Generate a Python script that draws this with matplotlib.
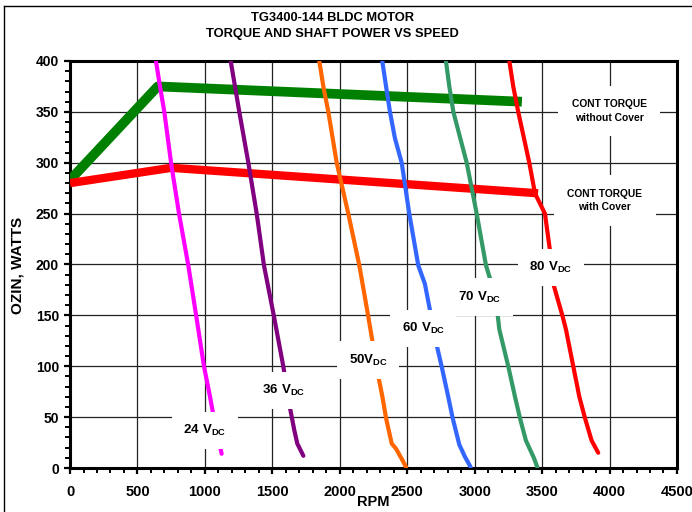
import matplotlib
matplotlib.use('Agg')
import matplotlib.pyplot as plt
from matplotlib.lines import Line2D
from matplotlib.ticker import MultipleLocator

plt.rcParams.update({
    'font.family': 'Liberation Sans',
    'font.weight': 'bold',
    'mathtext.fontset': 'custom',
    'mathtext.rm': 'Liberation Sans:bold',
    'mathtext.bf': 'Liberation Sans:bold',
})

# continuous torque limits
cont_nocover_rpm = [0, 650, 3350]
cont_nocover_ozin = [283, 375, 360]
cont_cover_rpm = [0, 750, 3470]
cont_cover_ozin = [280, 295, 270]

# speed-torque curves per supply voltage
v24_rpm = [637, 667, 699, 749, 808, 877, 935, 993, 1038, 1067, 1124]
v24_ozin = [400, 375, 350, 300, 250, 199, 150, 100, 70, 49, 14]

v36_rpm = [1191, 1255, 1322, 1384, 1438, 1512, 1581, 1631, 1663, 1685, 1730]
v36_ozin = [400, 350, 300, 250, 199, 149, 100, 59, 37, 24, 12]

v50_rpm = [1848, 1878, 1915, 1977, 2063, 2145, 2211, 2248, 2286, 2316, 2343, 2385, 2417, 2459, 2491]
v50_ozin = [400, 375, 350, 300, 250, 199, 149, 120, 90, 70, 49, 24, 19, 9, 1]

v60_rpm = [2315, 2343, 2372, 2409, 2459, 2515, 2582, 2631, 2718, 2755, 2804, 2837, 2886, 2928, 2970]
v60_ozin = [400, 375, 350, 324, 300, 250, 199, 181, 121, 100, 70, 49, 23, 11, 1]

v70_rpm = [2787, 2812, 2842, 2941, 3015, 3084, 3126, 3171, 3183, 3249, 3299, 3336, 3380, 3439, 3464]
v70_ozin = [400, 375, 350, 300, 250, 199, 181, 150, 136, 100, 70, 49, 27, 10, 1]

v80_rpm = [3257, 3286, 3323, 3405, 3447, 3521, 3558, 3583, 3652, 3677, 3731, 3776, 3818, 3867, 3916]
v80_ozin = [400, 375, 350, 300, 270, 250, 214, 181, 149, 136, 100, 70, 49, 27, 15]

fig = plt.figure(figsize=(6.92, 5.12), dpi=100)
ax = fig.add_axes([0.1012, 0.0859, 0.8771, 0.795])

ax.plot(cont_nocover_rpm, cont_nocover_ozin, color='#008000', lw=7.0,
        solid_capstyle='butt', zorder=3)
ax.plot(cont_cover_rpm, cont_cover_ozin, color='#FF0000', lw=6.0,
        solid_capstyle='butt', zorder=3)

curves = [
    (v24_rpm, v24_ozin, '#FF00FF'),
    (v36_rpm, v36_ozin, '#800080'),
    (v50_rpm, v50_ozin, '#FF6600'),
    (v60_rpm, v60_ozin, '#3366FF'),
    (v70_rpm, v70_ozin, '#339966'),
    (v80_rpm, v80_ozin, '#FF0000'),
]
for rpm, oz, col in curves:
    ax.plot(rpm, oz, color=col, lw=3.0, solid_capstyle='round',
            solid_joinstyle='round', zorder=4)

box = dict(boxstyle='square,pad=0.85', fc='white', ec='none')
labels = [
    (1000, 37, r'$\mathbf{24\ V_{DC}}$'),
    (1586, 76, r'$\mathbf{36\ V_{DC}}$'),
    (2209, 106, r'$\mathbf{50V_{DC}}$'),
    (2620, 137, r'$\mathbf{60\ V_{DC}}$'),
    (3039, 168, r'$\mathbf{70\ V_{DC}}$'),
    (3566, 197, r'$\mathbf{80\ V_{DC}}$'),
]
for x, y, s in labels:
    ax.text(x, y, s, fontsize=9.5, ha='center', va='center', bbox=box, zorder=6)

cbox = dict(boxstyle='square,pad=1.3', fc='white', ec='none')
ax.text(3998, 351, 'CONT TORQUE\nwithout Cover', fontsize=7.4, ha='center',
        va='center', linespacing=1.45, bbox=cbox, zorder=6)
ax.text(3966, 263, 'CONT TORQUE\nwith Cover', fontsize=7.4, ha='center',
        va='center', linespacing=1.45, bbox=cbox, zorder=6)

ax.set_xlim(0, 4500)
ax.set_ylim(0, 400)
ax.xaxis.set_major_locator(MultipleLocator(500))
ax.xaxis.set_minor_locator(MultipleLocator(100))
ax.yaxis.set_major_locator(MultipleLocator(50))
ax.yaxis.set_minor_locator(MultipleLocator(10))
ax.grid(True, which='major', color='#222222', lw=0.9, zorder=1)
ax.set_axisbelow(True)

for sp in ax.spines.values():
    sp.set_linewidth(2.2)
ax.tick_params(which='major', direction='out', length=4, width=1.6)
ax.tick_params(which='minor', direction='out', length=3.5, width=1.4)
ax.tick_params(axis='x', labelsize=10.5, pad=8)
ax.tick_params(axis='y', labelsize=10, pad=4)

ax.set_xlabel('RPM', fontsize=10.5, fontweight='bold')
ax.xaxis.set_label_coords(0.5, -0.066)

fig.text(0.0246, 0.482, 'OZIN, WATTS', fontsize=11, fontweight='bold',
         rotation=90, ha='center', va='center')
fig.text(0.481, 0.964, 'TG3400-144 BLDC MOTOR', fontsize=9.3,
         fontweight='bold', ha='center', va='center')
fig.text(0.481, 0.934, 'TORQUE AND SHAFT POWER VS SPEED', fontsize=9.3,
         fontweight='bold', ha='center', va='center')

# outer chart frame
fig.add_artist(Line2D([0.0065, 1.0], [0.988, 0.988], color='black', lw=1.0))
fig.add_artist(Line2D([0.0065, 0.0065], [0.0, 0.988], color='black', lw=1.0))

fig.savefig('out.png', dpi=100)
